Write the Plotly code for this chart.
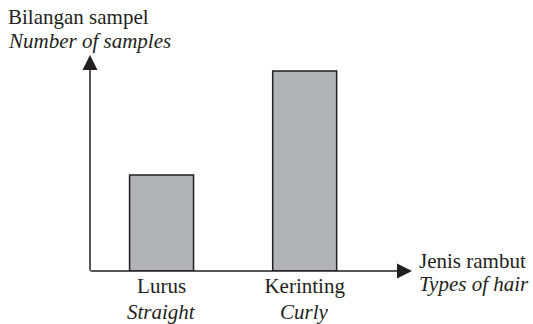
import plotly.graph_objects as go

categories = ["Lurus", "Kerinting"]
categories_en = ["Straight", "Curly"]
values = [4.8, 10.0]
y_title = ["Bilangan sampel", "Number of samples"]
x_title = ["Jenis rambut", "Types of hair"]

INK = "#231f20"
FONT = "Liberation Serif"
FS = 21

W, H = 533, 324
L, R, T, B = 90, 121, 55, 53
PW, PH = W - L - R, H - T - B


def px(x):
    return (x - L) / PW


def py(y):
    return (H - B - y) / PH


fig = go.Figure()
fig.add_trace(go.Bar(
    x=categories, y=values, width=0.447,
    marker=dict(color="#b1b2b4", line=dict(color=INK, width=1.5)),
    hoverinfo="skip",
))

fig.update_layout(
    width=W, height=H,
    margin=dict(l=L, r=R, t=T, b=B, pad=0),
    paper_bgcolor="white", plot_bgcolor="white",
    showlegend=False,
    font=dict(family=FONT, size=FS, color=INK),
    xaxis=dict(type="category", range=[-0.5, 1.75], showline=False, showgrid=False,
               zeroline=False, ticks="", ticklabelstandoff=0,
               tickfont=dict(size=FS, family=FONT, color=INK)),
    yaxis=dict(range=[0, 10.8], showline=False, showgrid=False, zeroline=False,
               showticklabels=False, ticks=""),
)

# axes with arrows
fig.add_annotation(x=1, y=0, xref="x domain", yref="y domain",
                   ax=-PW - 1, ay=0, showarrow=True,
                   arrowhead=2, arrowsize=2.0, arrowwidth=1.5, arrowcolor=INK, text="")
fig.add_annotation(x=0, y=1, xref="x domain", yref="y domain",
                   ax=0, ay=PH + 1, showarrow=True,
                   arrowhead=2, arrowsize=2.0, arrowwidth=1.5, arrowcolor=INK, text="")


def label(text, x, baseline, xanchor="left"):
    fig.add_annotation(x=x if not isinstance(x, (int, float)) else px(x),
                       y=py(baseline - 6.5),
                       xref="x" if isinstance(x, str) else "paper", yref="paper",
                       xanchor=xanchor, yanchor="middle", showarrow=False,
                       text=text, borderpad=0,
                       font=dict(size=FS, family=FONT, color=INK))


label(y_title[0], 7, 24)
label("<i>" + y_title[1] + "</i>", 7, 47)
label(x_title[0], 418, 267)
label("<i>" + x_title[1] + "</i>", 418, 290)
for c, e in zip(categories, categories_en):
    label("<i>" + e + "</i>", c, 318, xanchor="center")

fig.write_html("out.html", config={"displayModeBar": False},
               post_script="document.body.style.margin='0';")
